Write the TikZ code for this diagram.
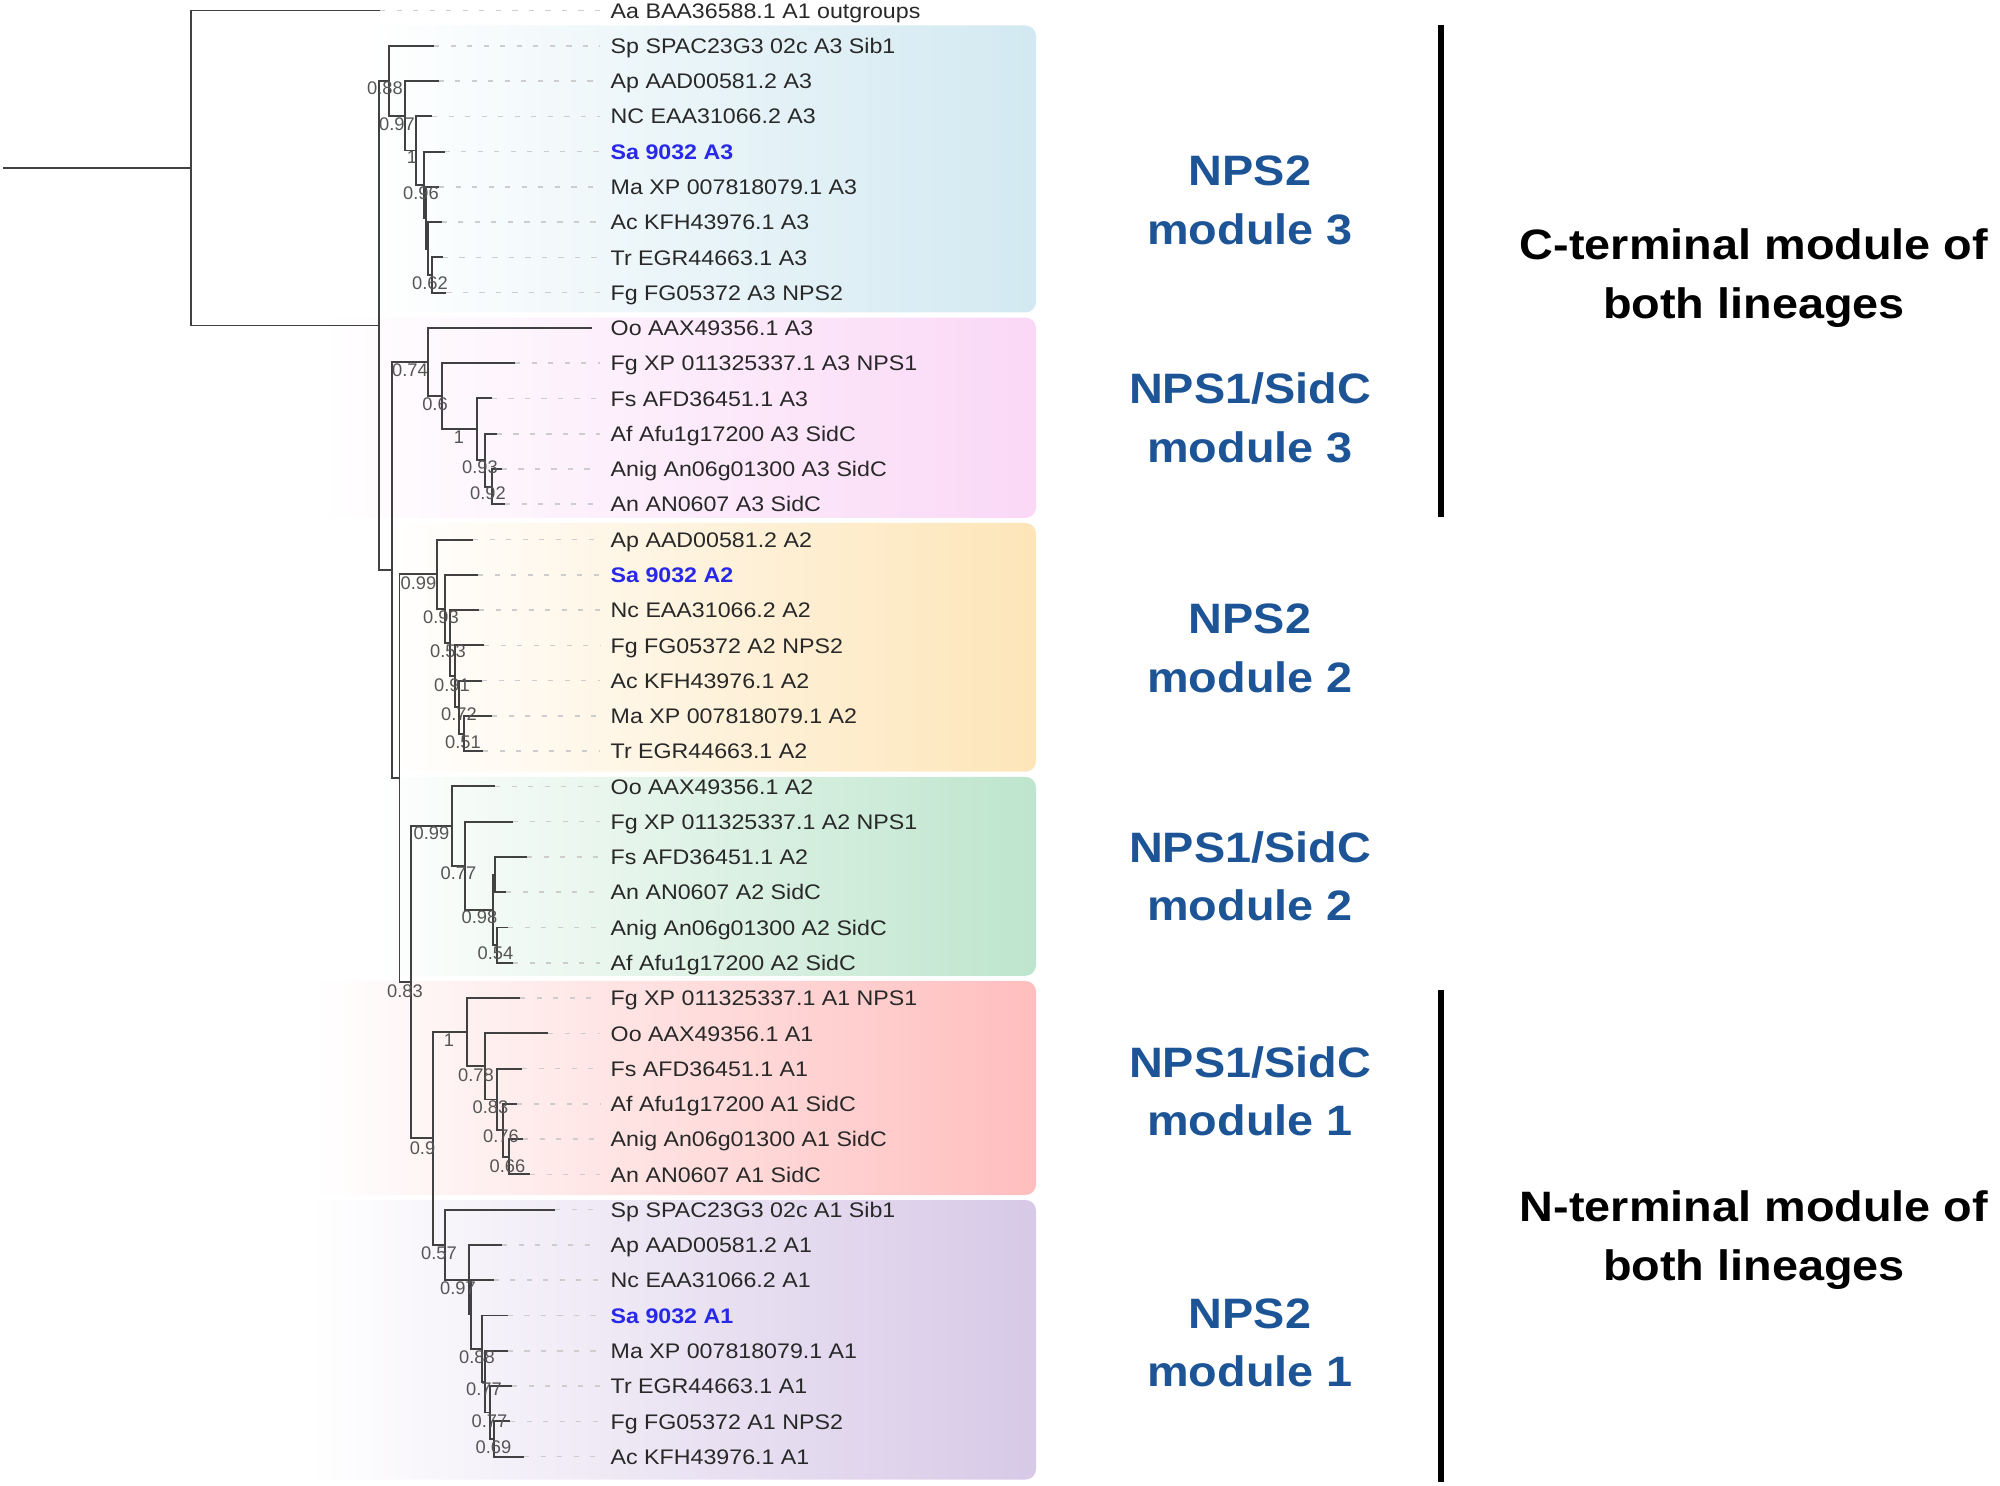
\documentclass[tikz,border=0pt]{standalone}
\usepackage{fontspec}
\setmainfont{Liberation Sans}
\newfontfamily\labfont[FakeStretch=1.1]{Liberation Sans}
\newfontfamily\suppfont{Liberation Sans}
\definecolor{leafc}{RGB}{40,40,40}
\definecolor{sablue}{RGB}{40,40,232}
\definecolor{modblue}{RGB}{28,84,150}
\definecolor{branchc}{RGB}{65,65,65}
\definecolor{leadc}{RGB}{205,205,205}
\definecolor{suppc}{RGB}{85,85,85}
\definecolor{bxblue}{RGB}{210,233,241}
\definecolor{bxpink}{RGB}{250,216,246}
\definecolor{bxyellow}{RGB}{253,229,184}
\definecolor{bxgreen}{RGB}{190,229,205}
\definecolor{bxred}{RGB}{255,190,190}
\definecolor{bxpurple}{RGB}{215,201,231}
\newcommand\lfn{\color{leafc}}
\newcommand\lfb{\color{sablue}\bfseries}
\begin{document}
\begin{tikzpicture}[x=0.01cm,y=-0.01cm,
 branch/.style={draw=branchc,line width=0.55pt},
 leader/.style={draw=leadc,line width=0.45pt,dash pattern=on 1.5pt off 3.2pt,shorten >=2.8pt},
 leaflab/.style={inner sep=0pt,anchor=base west,font=\labfont\fontsize{6}{7}\selectfont},
 supp/.style={inner sep=0pt,text=suppc,font=\suppfont\fontsize{5.2}{6}\selectfont},
 modtext/.style={inner sep=0pt,anchor=base,text=modblue,font=\labfont\bfseries\fontsize{12.1}{14}\selectfont},
 headtext/.style={inner sep=0pt,anchor=base,text=black,font=\labfont\bfseries\fontsize{12.1}{14}\selectfont},
 vbar/.style={draw=black,line width=1.7pt},
 box/.style={rounded corners=3pt}
]
\useasboundingbox (0,0) rectangle (2000,1486);

% coloured clade boxes
\shade[box,left color=white,right color=bxblue] (370,25.5) rectangle (1036,312.5);
\shade[box,left color=white,right color=bxpink] (320,317.6) rectangle (1036,518);
\shade[box,left color=white,right color=bxyellow] (390,523) rectangle (1036,771.7);
\shade[box,left color=white,right color=bxgreen] (370,776.8) rectangle (1036,975.8);
\shade[box,left color=white,right color=bxred] (315,981) rectangle (1036,1195);
\shade[box,left color=white,right color=bxpurple] (310,1200) rectangle (1036,1479.6);

% leaves
\foreach \i/\tx/\st/\txt in {
0/380/\lfn/Aa BAA36588.1 A1 outgroups,
1/434/\lfn/Sp SPAC23G3 02c A3 Sib1,
2/438.5/\lfn/Ap AAD00581.2 A3,
3/432/\lfn/NC EAA31066.2 A3,
4/444.5/\lfb/Sa 9032 A3,
5/439/\lfn/Ma XP 007818079.1 A3,
6/441.6/\lfn/Ac KFH43976.1 A3,
7/442.7/\lfn/Tr EGR44663.1 A3,
8/446.3/\lfn/Fg FG05372 A3 NPS2,
9/592/\lfn/Oo AAX49356.1 A3,
10/515/\lfn/Fg XP 011325337.1 A3 NPS1,
11/491.7/\lfn/Fs AFD36451.1 A3,
12/496.7/\lfn/Af Afu1g17200 A3 SidC,
13/501.7/\lfn/Anig An06g01300 A3 SidC,
14/505/\lfn/An AN0607 A3 SidC,
15/473/\lfn/Ap AAD00581.2 A2,
16/478/\lfb/Sa 9032 A2,
17/479/\lfn/Nc EAA31066.2 A2,
18/484/\lfn/Fg FG05372 A2 NPS2,
19/482/\lfn/Ac KFH43976.1 A2,
20/492/\lfn/Ma XP 007818079.1 A2,
21/483/\lfn/Tr EGR44663.1 A2,
22/495/\lfn/Oo AAX49356.1 A2,
23/513/\lfn/Fg XP 011325337.1 A2 NPS1,
24/527/\lfn/Fs AFD36451.1 A2,
25/506/\lfn/An AN0607 A2 SidC,
26/508/\lfn/Anig An06g01300 A2 SidC,
27/513/\lfn/Af Afu1g17200 A2 SidC,
28/520/\lfn/Fg XP 011325337.1 A1 NPS1,
29/548/\lfn/Oo AAX49356.1 A1,
30/522/\lfn/Fs AFD36451.1 A1,
31/517/\lfn/Af Afu1g17200 A1 SidC,
32/523/\lfn/Anig An06g01300 A1 SidC,
33/530/\lfn/An AN0607 A1 SidC,
34/555/\lfn/Sp SPAC23G3 02c A1 Sib1,
35/502/\lfn/Ap AAD00581.2 A1,
36/493.5/\lfn/Nc EAA31066.2 A1,
37/507.7/\lfb/Sa 9032 A1,
38/507.7/\lfn/Ma XP 007818079.1 A1,
39/512/\lfn/Tr EGR44663.1 A1,
40/510/\lfn/Fg FG05372 A1 NPS2,
41/524/\lfn/Ac KFH43976.1 A1}{
 \coordinate (t\i) at (\tx,{10.5+35.27*\i});
 \node[leaflab] (lab\i) at (610,{10.5+35.27*\i+7.7}) {\st\txt};
 \ifdim\tx pt<585pt \draw[leader] (t\i) -- (t\i -| lab\i.west);\fi
}

% internal nodes
\coordinate (stem) at (3,167.99);
\coordinate (root) at (191,167.99);
\coordinate (R1) at (379,325.48);
\coordinate (R2) at (392,570.19);
\coordinate (R3) at (399.5,778.28);
\coordinate (R4) at (410.7,982.29);
\coordinate (R5) at (432.7,1138.46);
\coordinate (N1) at (389,80.77);
\coordinate (N2) at (405,115.76);
\coordinate (N3) at (416,150.48);
\coordinate (N4) at (424,184.65);
\coordinate (N5) at (426,217.71);
\coordinate (N6) at (428,248.57);
\coordinate (N7) at (432,275.03);
\coordinate (P1) at (427.7,362.1);
\coordinate (P2) at (442,396.27);
\coordinate (P3) at (476.7,429.34);
\coordinate (P4) at (485,460.2);
\coordinate (P5) at (491.7,486.65);
\coordinate (Y0) at (437,574.27);
\coordinate (Y1) at (445,608.99);
\coordinate (Y2) at (450,643.16);
\coordinate (Y3) at (455,676.23);
\coordinate (Y4) at (459,707.09);
\coordinate (Y5) at (464,733.54);
\coordinate (G0) at (452,826.12);
\coordinate (G1) at (465,865.8);
\coordinate (G2) at (493,909.89);
\coordinate (G3) at (495,874.62);
\coordinate (G4) at (497,945.16);
\coordinate (D1) at (466.7,1032.23);
\coordinate (D2) at (485,1066.4);
\coordinate (D3) at (497,1099.47);
\coordinate (D4) at (503,1130.33);
\coordinate (D5) at (509,1156.78);
\coordinate (V0) at (445,1244.68);
\coordinate (V1) at (469,1279.67);
\coordinate (V2) at (471,1314.39);
\coordinate (V3) at (482,1348.56);
\coordinate (V4) at (485,1381.63);
\coordinate (V5) at (490,1412.49);
\coordinate (V6) at (494,1438.94);

% branches
\draw[branch] (stem) -- (root);
\foreach \p/\c in {root/t0, root/R1, R1/N1, R1/R2, R2/P1, R2/R3, R3/Y0, R3/R4, R4/G0, R4/R5, R5/D1, R5/V0,
 N1/t1, N1/N2, N2/t2, N2/N3, N3/t3, N3/N4, N4/t4, N4/N5, N5/t5, N5/N6, N6/t6, N6/N7, N7/t7, N7/t8,
 P1/t9, P1/P2, P2/t10, P2/P3, P3/t11, P3/P4, P4/t12, P4/P5, P5/t13, P5/t14,
 Y0/t15, Y0/Y1, Y1/t16, Y1/Y2, Y2/t17, Y2/Y3, Y3/t18, Y3/Y4, Y4/t19, Y4/Y5, Y5/t20, Y5/t21,
 G0/t22, G0/G1, G1/t23, G1/G2, G2/G3, G2/G4, G3/t24, G3/t25, G4/t26, G4/t27,
 D1/t28, D1/D2, D2/t29, D2/D3, D3/t30, D3/D4, D4/t31, D4/D5, D5/t32, D5/t33,
 V0/t34, V0/V1, V1/t35, V1/V2, V2/t36, V2/V3, V3/t37, V3/V4, V4/t38, V4/V5, V5/t39, V5/V6, V6/t40, V6/t41}
 {\draw[branch] (\p) |- (\c);}

% support values
\foreach \sx/\sy/\sv [count=\k] in {
385/88/0.88, 397/124/0.97, 412/157/1, 421/193/0.96, 430/283/0.62,
410/370/0.74, 435/404/0.6, 459/437/1, 480/467/0.93, 488/493/0.92,
418.5/583/0.99, 441/617/0.93, 448/651/0.53, 452/685/0.91, 459/714/0.72, 463/742/0.51,
431.5/833/0.99, 458.5/873/0.77, 479.5/917/0.98, 495.5/953/0.54,
405/991/0.83, 422.5/1148/0.9,
449/1040/1, 476/1075/0.78, 490.5/1107/0.83, 501/1136/0.76, 507.5/1166/0.66,
439/1253/0.57, 458/1288/0.97, 477/1357/0.88, 484/1389/0.77, 489.5/1421/0.77, 493.5/1447/0.69}
 {\node[supp] (s\k) at (\sx,\sy) {\sv};}

% module names
\node[modtext] (m1a) at (1250,185.7) {NPS2};
\node[modtext] (m1b) at (1250,244.4) {module 3};
\node[modtext] (m2a) at (1250,403.7) {NPS1/SidC};
\node[modtext] (m2b) at (1250,462.4) {module 3};
\node[modtext] (m3a) at (1250,633.8) {NPS2};
\node[modtext] (m3b) at (1250,692.5) {module 2};
\node[modtext] (m4a) at (1250,862.2) {NPS1/SidC};
\node[modtext] (m4b) at (1250,920.9) {module 2};
\node[modtext] (m5a) at (1250,1077.2) {NPS1/SidC};
\node[modtext] (m5b) at (1250,1135.9) {module 1};
\node[modtext] (m6a) at (1250,1328.2) {NPS2};
\node[modtext] (m6b) at (1250,1386.9) {module 1};

% brackets and headings
\coordinate (b1t) at (1441,25.5);
\coordinate (b1b) at (1441,516.6);
\coordinate (b2t) at (1441,990);
\coordinate (b2b) at (1441,1482);
\draw[vbar] (b1t) -- (b1b);
\draw[vbar] (b2t) -- (b2b);
\node[headtext] (h1a) at (1754,259.5) {C-terminal module of};
\node[headtext] (h1b) at (1754,318.2) {both lineages};
\node[headtext] (h2a) at (1754,1221.8) {N-terminal module of};
\node[headtext] (h2b) at (1754,1280.5) {both lineages};
\end{tikzpicture}
\end{document}
